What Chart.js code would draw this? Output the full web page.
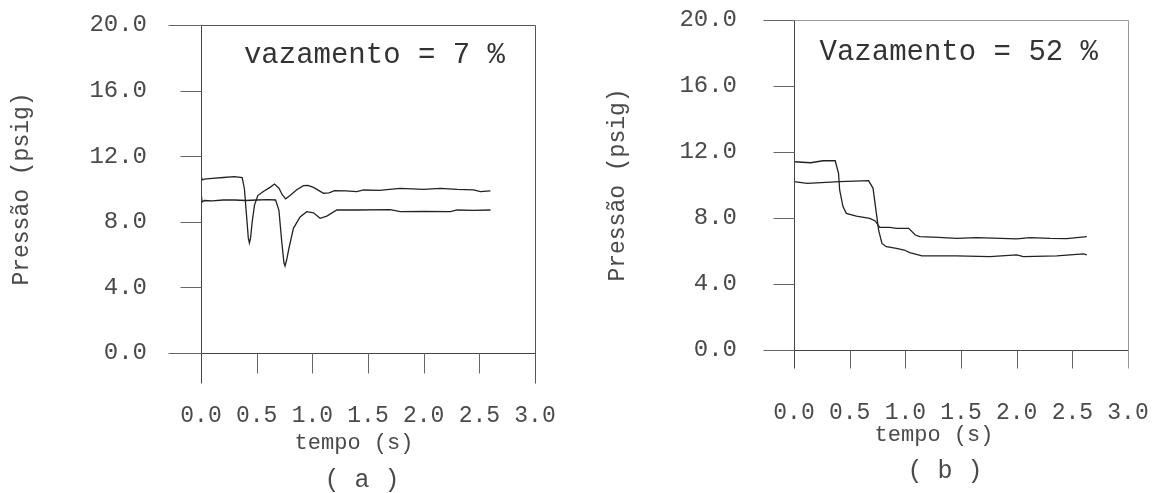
<!DOCTYPE html>
<html><head><meta charset="utf-8">
<script src="https://cdn.jsdelivr.net/npm/chart.js@4.4.1/dist/chart.umd.min.js"></script>
<style>
html,body{margin:0;padding:0;background:#fff;}
#wrap{position:relative;width:1154px;height:493px;overflow:hidden;background:#fff;}
canvas{position:absolute;top:0;}
</style></head><body>
<div id="wrap">
<canvas id="ca" width="577" height="493" style="left:0"></canvas>
<canvas id="cb" width="577" height="493" style="left:577px"></canvas>
</div>
<script>
// ---- data ----
const xTicks = [0, 0.5, 1.0, 1.5, 2.0, 2.5, 3.0];
const yTicks = [0, 4, 8, 12, 16, 20];

const titleA = 'vazamento = 7 %';
const titleB = 'Vazamento = 52 %';
const yLabel = 'Pressão (psig)';
const xLabel = 'tempo (s)';
const panelA = '( a )';
const panelB = '( b )';

// (a) upper trace
const timeA1 = [0.00, 0.01, 0.03, 0.10, 0.20, 0.30, 0.37, 0.39, 0.41, 0.425, 0.435, 0.445, 0.46, 0.48, 0.51, 0.56, 0.62, 0.66, 0.70, 0.73, 0.76, 0.80, 0.86, 0.92, 0.96, 1.01, 1.06, 1.10, 1.15, 1.20, 1.30, 1.40, 1.46, 1.60, 1.79, 2.00, 2.15, 2.30, 2.45, 2.51, 2.60];
const pressA1 = [10.85, 10.55, 10.6, 10.65, 10.7, 10.75, 10.7, 10.0, 8.3, 7.0, 6.7, 7.0, 8.0, 9.0, 9.6, 9.85, 10.1, 10.3, 10.05, 9.65, 9.4, 9.6, 9.95, 10.2, 10.22, 10.1, 9.9, 9.74, 9.76, 9.9, 9.88, 9.84, 9.94, 9.92, 10.04, 9.98, 10.04, 9.98, 9.95, 9.84, 9.88];
// (a) lower trace
const timeA2 = [0.00, 0.01, 0.03, 0.10, 0.20, 0.30, 0.40, 0.50, 0.60, 0.67, 0.70, 0.725, 0.745, 0.755, 0.77, 0.79, 0.83, 0.89, 0.95, 1.01, 1.07, 1.13, 1.22, 1.40, 1.70, 1.79, 2.00, 2.24, 2.30, 2.45, 2.60];
const pressA2 = [9.8, 9.2, 9.3, 9.28, 9.33, 9.33, 9.3, 9.33, 9.35, 9.33, 8.7, 6.8, 5.5, 5.3, 5.7, 6.4, 7.6, 8.3, 8.62, 8.55, 8.21, 8.35, 8.72, 8.72, 8.74, 8.62, 8.64, 8.62, 8.72, 8.7, 8.72];
// (b) upper trace
const timeB1 = [0.00, 0.15, 0.26, 0.37, 0.40, 0.41, 0.44, 0.47, 0.56, 0.68, 0.73, 0.77, 0.86, 0.92, 1.03, 1.09, 1.13, 1.30, 1.46, 1.64, 2.00, 2.12, 2.30, 2.45, 2.63];
const pressB1 = [11.41, 11.35, 11.47, 11.47, 10.71, 9.7, 8.69, 8.28, 8.12, 7.98, 7.82, 7.43, 7.43, 7.37, 7.37, 6.97, 6.87, 6.82, 6.77, 6.81, 6.73, 6.81, 6.76, 6.75, 6.87];
// (b) lower trace
const timeB2 = [0.00, 0.12, 0.41, 0.67, 0.71, 0.74, 0.76, 0.79, 0.83, 0.92, 0.99, 1.04, 1.15, 1.46, 1.76, 2.00, 2.06, 2.36, 2.60, 2.63];
const pressB2 = [10.2, 10.1, 10.2, 10.26, 9.8, 8.28, 7.27, 6.46, 6.26, 6.16, 6.06, 5.9, 5.7, 5.7, 5.66, 5.76, 5.66, 5.7, 5.82, 5.76];

// ---- helpers ----
const FONT = '"Liberation Mono", "DejaVu Sans Mono", monospace';
const INK = '#4a4a4a';
const pts = (t, p) => t.map((x, i) => ({x, y: p[i]}));

const framePlugin = {
  id: 'frame',
  afterDraw(chart, args, o) {
    const ctx = chart.ctx, a = chart.chartArea;
    const xs = chart.scales.x, ys = chart.scales.y;
    ctx.save();
    ctx.lineWidth = 1;
    ctx.strokeStyle = '#444';
    const L = Math.round(a.left) + 0.5, R = Math.round(a.right) + 0.5;
    const T = Math.round(a.top) + 0.5, B = Math.round(a.bottom) + 0.5;
    ctx.beginPath();
    ctx.moveTo(L, T); ctx.lineTo(L, B + o.ext);
    ctx.moveTo(L, B); ctx.lineTo(R, B);
    ctx.stroke();
    ctx.strokeStyle = o.borderColor;
    ctx.beginPath();
    ctx.moveTo(L, T); ctx.lineTo(R, T);
    ctx.moveTo(R, T); ctx.lineTo(R, B + o.ext);
    ctx.stroke();
    ctx.strokeStyle = '#666';
    ctx.beginPath();
    yTicks.forEach((v, i) => {
      const y = Math.round(ys.getPixelForValue(v)) + 0.5;
      const len = (i === 0 || i === yTicks.length - 1) ? o.yLong : o.yShort;
      ctx.moveTo(L - len, y); ctx.lineTo(L, y);
    });
    xTicks.slice(1, -1).forEach(v => {
      const x = Math.round(xs.getPixelForValue(v)) + 0.5;
      ctx.moveTo(x, B); ctx.lineTo(x, B + o.xLen);
    });
    ctx.stroke();
    ctx.fillStyle = '#333';
    ctx.font = '29px ' + FONT;
    ctx.textAlign = 'right';
    ctx.textBaseline = 'middle';
    ctx.fillText(o.title, a.right - o.titleRight, a.top + o.titleDy);
    const cx = (a.left + a.right) / 2;
    ctx.fillStyle = INK;
    ctx.textAlign = 'center';
    ctx.font = '22px ' + FONT;
    ctx.fillText(xLabel, cx + o.xTitleDx, o.xTitleY);
    ctx.font = '25px ' + FONT;
    ctx.fillText(o.panel, cx + o.panelDx, o.panelY);
    ctx.restore();
  }
};

function makeChart(id, s1, s2, cfg) {
  return new Chart(document.getElementById(id), {
    type: 'line',
    data: {
      datasets: [
        {data: s1, borderColor: '#222', borderWidth: 1.3, pointRadius: 0, tension: 0, fill: false},
        {data: s2, borderColor: '#222', borderWidth: 1.3, pointRadius: 0, tension: 0, fill: false}
      ]
    },
    options: {
      responsive: false,
      animation: false,
      layout: {padding: {top: cfg.top, right: cfg.right, left: 0, bottom: 0}},
      plugins: {
        legend: {display: false},
        tooltip: {enabled: false},
        frame: cfg.frame
      },
      scales: {
        x: {
          type: 'linear', min: 0, max: 3,
          afterBuildTicks: sc => { sc.ticks = xTicks.map(v => ({value: v})); },
          afterFit: sc => { sc.height = cfg.xHeight; sc.paddingLeft = 0; sc.paddingRight = 0; },
          grid: {display: false, drawTicks: false},
          border: {display: false},
          ticks: {autoSkip: false, maxRotation: 0, padding: cfg.xPad, color: INK,
                  font: {family: FONT, size: 23},
                  callback: v => Number(v).toFixed(1)}
        },
        y: {
          type: 'linear', min: 0, max: 20,
          afterBuildTicks: sc => { sc.ticks = yTicks.map(v => ({value: v})); },
          afterFit: sc => { sc.width = cfg.yWidth; sc.paddingTop = 0; sc.paddingBottom = 0; },
          grid: {display: false, drawTicks: false},
          border: {display: false},
          ticks: {padding: cfg.yPad, color: INK, font: {family: FONT, size: 24},
                  callback: v => Number(v).toFixed(1)},
          title: {display: true, text: yLabel, color: INK,
                  font: {family: FONT, size: 23}, padding: {top: cfg.yTitlePad, bottom: 0}}
        }
      }
    },
    plugins: [framePlugin]
  });
}

makeChart('ca', pts(timeA1, pressA1), pts(timeA2, pressA2), {
  top: 25, right: 42, yWidth: 201, xHeight: 140, xPad: 49, yPad: 54, yTitlePad: 8,
  frame: {ext: 30, xLen: 20, yLong: 33, yShort: 21, borderColor: '#555',
          title: titleA, titleRight: 30, titleDy: 30,
          xTitleDx: -14, xTitleY: 443, panel: panelA, panelDx: -6, panelY: 480}
});
makeChart('cb', pts(timeB1, pressB1), pts(timeB2, pressB2), {
  top: 20, right: 26, yWidth: 217, xHeight: 143, xPad: 49, yPad: 57, yTitlePad: 27,
  frame: {ext: 18, xLen: 18, yLong: 31, yShort: 21, borderColor: '#999',
          title: titleB, titleRight: 30, titleDy: 32,
          xTitleDx: -27, xTitleY: 435, panel: panelB, panelDx: -16, panelY: 471}
});
</script>
</body></html>
